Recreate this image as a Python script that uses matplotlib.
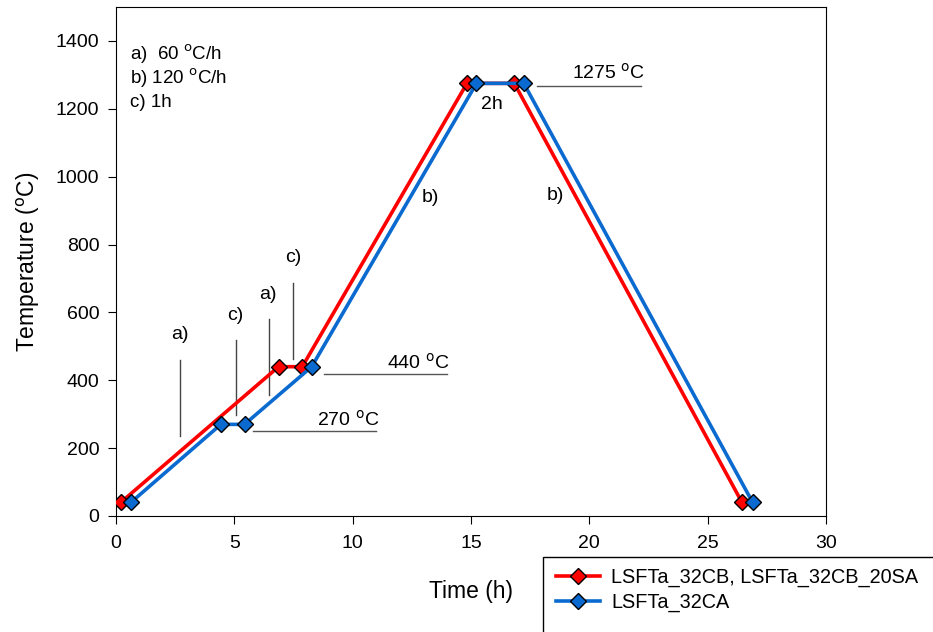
import matplotlib.pyplot as plt
from matplotlib.patches import Rectangle

plt.rcParams['font.family'] = ['Liberation Sans', 'DejaVu Sans']

# LSFTa_32CB, LSFTa_32CB_20SA
red_time = [0.2, 6.87, 7.87, 14.83, 16.83, 26.45]
red_temp = [40, 440, 440, 1275, 1275, 40]

# LSFTa_32CA
blue_time = [0.63, 4.43, 5.43, 8.27, 15.23, 17.23, 26.9]
blue_temp = [40, 270, 270, 440, 1275, 1275, 40]

series_names = ["LSFTa_32CB, LSFTa_32CB_20SA", "LSFTa_32CA"]

deg = r"$^{\mathrm{o}}$C"

# segment labels: (text, x, y) and their vertical marker lines (x, y0, y1)
seg_labels = [("a)", 2.7, 535), ("c)", 5.03, 590), ("a)", 6.42, 653), ("c)", 7.48, 762),
              ("b)", 13.27, 939), ("b)", 18.55, 945), ("2h", 15.9, 1214)]
seg_lines = [(2.7, 235, 460), (5.05, 298, 520), (6.45, 357, 582), (7.48, 464, 688)]

# temperature plateaus: (text, text_x, text_y, line_x0, line_x1, line_y)
plateaus = [("270 " + deg, 9.8, 283, 5.79, 10.98, 251),
            ("440 " + deg, 12.76, 452, 8.79, 13.98, 419),
            ("1275 " + deg, 20.8, 1305, 17.79, 22.2, 1267)]

notes = ["a)  60 " + deg + "/h", "b) 120 " + deg + "/h", "c) 1h"]
notes_y = [1361, 1290, 1220]

fig = plt.figure(figsize=(9.33, 6.32), dpi=100)
ax = fig.add_axes([116 / 933, 116 / 632, 710 / 933, 509 / 632])

ax.plot(red_time, red_temp, color="#ff0000", lw=2.6, marker="D", ms=8,
        mfc="#ff0000", mec="black", mew=1, label=series_names[0], zorder=3)
ax.plot(blue_time, blue_temp, color="#0a6ad0", lw=2.6, marker="D", ms=8,
        mfc="#0a6ad0", mec="black", mew=1, label=series_names[1], zorder=3)

for txt, x, y in seg_labels:
    ax.text(x, y, txt, fontsize=14, ha="center", va="center")
for x, y0, y1 in seg_lines:
    ax.plot([x, x], [y0, y1], color="#444444", lw=1)

for txt, tx, ty, x0, x1, y in plateaus:
    ax.text(tx, ty, txt, fontsize=14, ha="center", va="center")
    ax.plot([x0, x1], [y, y], color="#555555", lw=1)

for txt, y in zip(notes, notes_y):
    ax.text(0.6, y, txt, fontsize=13.5, ha="left", va="center")

ax.set_xlim(0, 30)
ax.set_ylim(0, 1500)
ax.set_xticks(range(0, 31, 5))
ax.set_yticks(range(0, 1401, 200))
ax.tick_params(direction="out", length=6, labelsize=14, pad=8)
ax.tick_params(axis="y", pad=6)
ax.set_xlabel("Time (h)", fontsize=16.5, labelpad=20)
ax.set_ylabel("Temperature (" + deg + ")", fontsize=16.5, labelpad=10)

fig.patches.append(Rectangle((543 / 933, -0.1), 0.5, 75 / 632 + 0.1,
                             transform=fig.transFigure, fill=False,
                             ec="black", lw=1))
fig.legend(loc="upper left", bbox_to_anchor=(538 / 933, 1 - 550 / 632),
           frameon=False, fontsize=14.3, handlelength=2.2,
           labelspacing=0.3, handletextpad=0.6)

fig.savefig("out.png", dpi=100)
